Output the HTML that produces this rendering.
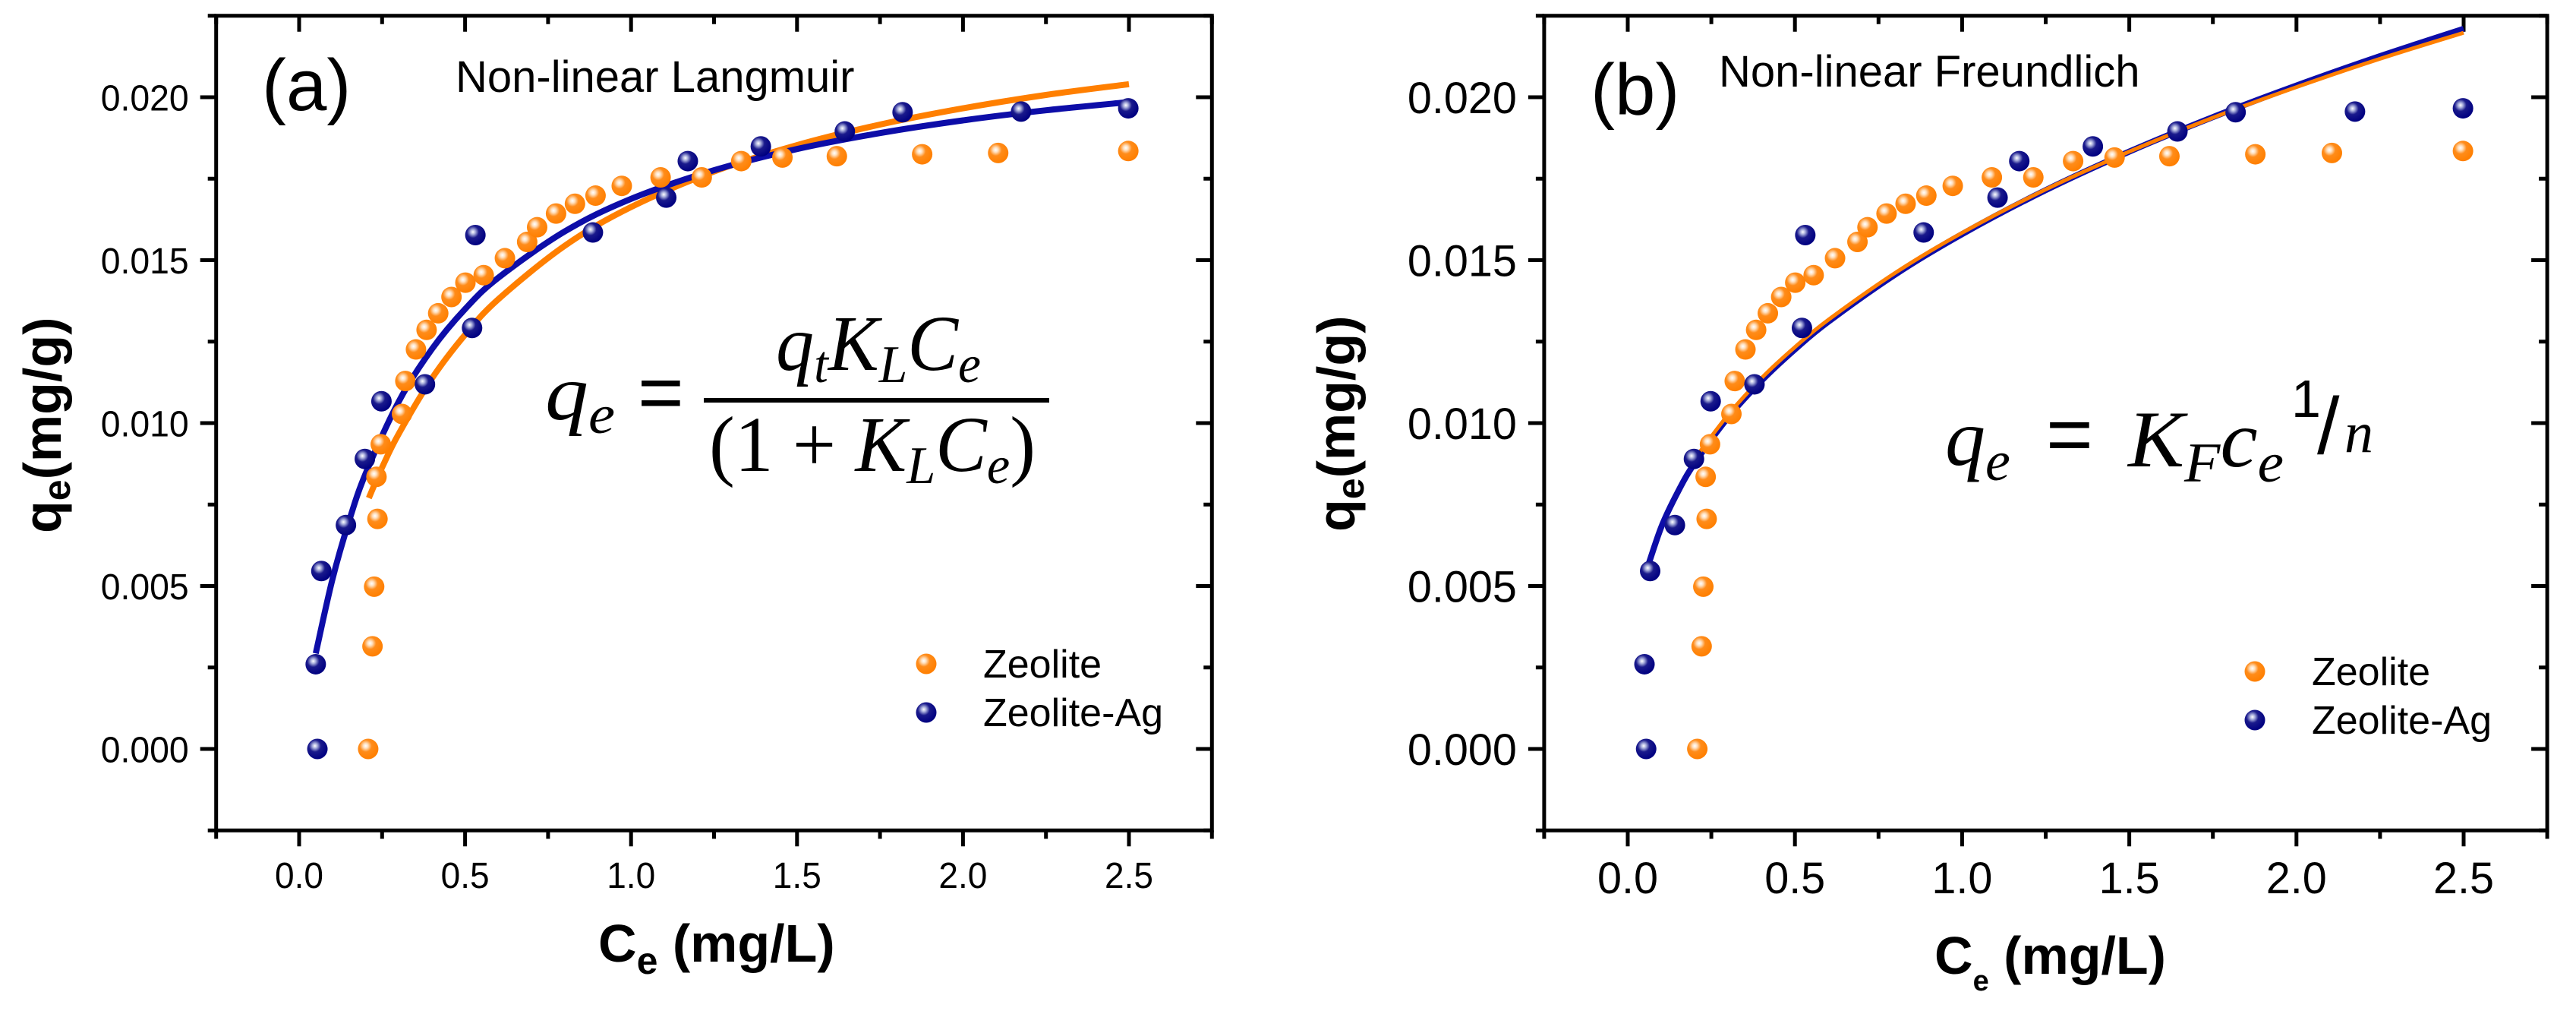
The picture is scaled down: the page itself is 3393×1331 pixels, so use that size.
<!DOCTYPE html>
<html><head><meta charset="utf-8"><title>Langmuir and Freundlich isotherm fits</title>
<style>
html,body{margin:0;padding:0;background:#fff;}
svg{display:block;}
text{font-family:"Liberation Sans",Arial,sans-serif;}
.m{font-family:"Liberation Serif","DejaVu Serif",serif;font-style:italic;}
</style></head>
<body>
<svg id="fig" xmlns="http://www.w3.org/2000/svg" width="3393" height="1331" viewBox="0 0 3393 1331">
<defs>
<radialGradient id="gO" cx="0.38" cy="0.35" r="0.65">
<stop offset="0" stop-color="#ffffff"/><stop offset="0.18" stop-color="#ffe0bf"/><stop offset="0.45" stop-color="#ff8c1a"/><stop offset="1" stop-color="#ff7f00"/>
</radialGradient>
<radialGradient id="gB" cx="0.38" cy="0.35" r="0.65">
<stop offset="0" stop-color="#ffffff"/><stop offset="0.18" stop-color="#aab0dd"/><stop offset="0.45" stop-color="#1a1a8c"/><stop offset="1" stop-color="#000080"/>
</radialGradient>
</defs>
<g id="panelA"></g>
<g id="panelB"></g>
</svg>
<script>
// ---- measured data (shared by both panels) ----
const zeoliteX = [0.208,0.221,0.226,0.236,0.233,0.246,0.31,0.32,0.352,0.384,0.419,0.459,0.501,0.556,0.62,0.687,0.717,0.774,0.831,0.893,0.972,1.089,1.213,1.332,1.456,1.62,1.877,2.106,2.498];
const zeoliteY = [0.0,0.00315,0.00498,0.00706,0.00835,0.00935,0.01028,0.01129,0.01226,0.01286,0.01337,0.01387,0.01431,0.01454,0.01506,0.01556,0.01601,0.01643,0.01673,0.01698,0.01728,0.01754,0.01754,0.01804,0.01815,0.01819,0.01825,0.01829,0.01835];
const agX = [0.055,0.05,0.067,0.141,0.198,0.248,0.379,0.521,0.531,0.885,1.106,1.171,1.391,1.644,1.818,2.175,2.498];
const agY = [0.0,0.0026,0.00546,0.00687,0.0089,0.01067,0.01119,0.01292,0.01577,0.01585,0.01692,0.01804,0.01849,0.01895,0.01954,0.01956,0.01966];
// ---- fitted curves ----
const langAgX = [0.05,0.1,0.15,0.2,0.3,0.4,0.5,0.6,0.8,1.0,1.25,1.5,1.75,2.0,2.25,2.5];
const langAgY = [0.00293,0.00519,0.00698,0.00844,0.01066,0.01227,0.0135,0.01446,0.01588,0.01688,0.01776,0.01841,0.0189,0.01929,0.0196,0.01985];
const langZX = [0.21,0.25,0.3,0.4,0.5,0.6,0.8,1.0,1.25,1.5,1.75,2.0,2.25,2.5];
const langZY = [0.0077,0.00864,0.00967,0.01137,0.01271,0.0138,0.01544,0.01663,0.01772,0.01853,0.01916,0.01966,0.02007,0.0204];
const freAgX = [0.05,0.1,0.15,0.2,0.3,0.4,0.5,0.6,0.8,1.0,1.25,1.5,1.75,2.0,2.25,2.5];
const freAgY = [0.00528,0.0068,0.00789,0.00877,0.01017,0.0113,0.01226,0.01311,0.01456,0.0158,0.01715,0.01833,0.01939,0.02036,0.02126,0.0221];
const freZX = [0.2,0.3,0.4,0.5,0.6,0.8,1.0,1.25,1.5,1.75,2.0,2.25,2.5];
const freZY = [0.0089,0.01025,0.01138,0.01233,0.01317,0.01461,0.01584,0.01717,0.01833,0.01937,0.02031,0.02118,0.02198];
// ---- ticks ----
const xTickVals = [0,0.5,1,1.5,2,2.5];
const xTickLabels = ["0.0","0.5","1.0","1.5","2.0","2.5"];
const yTickVals = [0,0.005,0.01,0.015,0.02];
const yTickLabels = ["0.000","0.005","0.010","0.015","0.020"];
const xMin=-0.25, xMax=2.75, yMin=-0.0025, yMax=0.0225;

const NS="http://www.w3.org/2000/svg";
function mk(tag, attrs, parent){const e=document.createElementNS(NS,tag);for(const k in attrs)e.setAttribute(k,attrs[k]);if(parent)parent.appendChild(e);return e;}
function smooth(pts){
  let d="M"+pts[0][0].toFixed(1)+","+pts[0][1].toFixed(1);
  for(let i=0;i<pts.length-1;i++){
    const p0=pts[i-1]||pts[i],p1=pts[i],p2=pts[i+1],p3=pts[i+2]||p2;
    const c1=[p1[0]+(p2[0]-p0[0])/6,p1[1]+(p2[1]-p0[1])/6];
    const c2=[p2[0]-(p3[0]-p1[0])/6,p2[1]-(p3[1]-p1[1])/6];
    d+=" C"+c1[0].toFixed(1)+","+c1[1].toFixed(1)+" "+c2[0].toFixed(1)+","+c2[1].toFixed(1)+" "+p2[0].toFixed(1)+","+p2[1].toFixed(1);
  }
  return d;
}
function labelWidth(s,dw,pw){let w=0;for(const ch of s)w+=(ch==='.')?pw:dw;return w;}

function panel(g, cfg){
  const X=v=>cfg.x0+v*cfg.xu;
  const Y=v=>986-v*42900;
  const L=X(xMin),R=X(xMax),T=Y(yMax),B=Y(yMin);
  const fr=mk("rect",{x:L,y:T,width:R-L,height:B-T,fill:"none",stroke:"#000","stroke-width":5},g);
  
  
  for(let v=xMin; v<=xMax+1e-9; v+=0.25){
    const major=Math.abs(v*2-Math.round(v*2))<1e-9;
    const len=major?21:11, x=X(v);
    const t1=mk("line",{x1:x,y1:B,x2:x,y2:B+len,stroke:"#000","stroke-width":5},g);
    
    
    const t2=mk("line",{x1:x,y1:T,x2:x,y2:T+len,stroke:"#000","stroke-width":5},g);
    
    
  }
  for(let v=yMin; v<=yMax+1e-9; v+=0.0025){
    const major=Math.abs(v/0.005-Math.round(v/0.005))<1e-6;
    const len=major?21:11, y=Y(v);
    const t1=mk("line",{x1:L,y1:y,x2:L-len,y2:y,stroke:"#000","stroke-width":5},g);
    
    
    const t2=mk("line",{x1:R,y1:y,x2:R-len,y2:y,stroke:"#000","stroke-width":5},g);
    
    
  }
  xTickVals.forEach((v,i)=>{
    const w=labelWidth(xTickLabels[i],cfg.dw,cfg.pw);
    const t=mk("text",{x:X(v)-w/2,y:cfg.xlabY,"font-size":cfg.tickFs,textLength:w,lengthAdjust:"spacingAndGlyphs"},g);
    t.textContent=xTickLabels[i];
    
    
  });
  yTickVals.forEach((v,i)=>{
    const w=labelWidth(yTickLabels[i],cfg.dw,cfg.pw);
    const t=mk("text",{x:L-36-w,y:Y(v)+cfg.tickFs*0.36,"font-size":cfg.tickFs,textLength:w,lengthAdjust:"spacingAndGlyphs"},g);
    t.textContent=yTickLabels[i];
    
    
  });
  cfg.curves.forEach(c=>{
    const pts=c.xs.map((x,i)=>[X(x),Y(c.ys[i])]);
    const p=mk("path",{d:smooth(pts),fill:"none",stroke:c.color,"stroke-width":c.w},g);
    
    
  });
  zeoliteX.forEach((x,i)=>{
    const c=mk("circle",{cx:X(x),cy:Y(zeoliteY[i]),r:13.5,fill:"url(#gO)"},g);
    
    
  });
  agX.forEach((x,i)=>{
    const c=mk("circle",{cx:X(x),cy:Y(agY[i]),r:13.5,fill:"url(#gB)"},g);
    
    
  });
  const lg=mk("g",{},g);
  
  
  const l1=mk("circle",{cx:cfg.legX,cy:cfg.legY,r:13.5,fill:"url(#gO)"},lg);
  
  
  const l2=mk("circle",{cx:cfg.legX,cy:cfg.legY+64,r:13.5,fill:"url(#gB)"},lg);
  
  
  const lt1=mk("text",{x:cfg.legX+75,y:cfg.legY+18,"font-size":52},lg);
  lt1.textContent="Zeolite";
  
  
  const lt2=mk("text",{x:cfg.legX+75,y:cfg.legY+82,"font-size":52},lg);
  lt2.textContent="Zeolite-Ag";
  
  
}

const A=document.getElementById('panelA'), Bp=document.getElementById('panelB');
panel(A,{x0:394,xu:437.2,tickFs:48,dw:26,pw:12,xlabY:1169,legX:1220,legY:874,
  curves:[{xs:langZX,ys:langZY,color:"#ff7f00",w:8,name:"zeolite-langmuir-fit"},
          {xs:langAgX,ys:langAgY,color:"#0d0da8",w:8,name:"zeolite-ag-langmuir-fit"}]});
panel(Bp,{x0:2144,xu:440.4,tickFs:58,dw:32,pw:16,xlabY:1176,legX:2970,legY:884,
  curves:[{xs:freAgX,ys:freAgY,color:"#0d0da8",w:8,name:"zeolite-ag-freundlich-fit"},
          {xs:freZX,ys:freZY,color:"#ff7f00",w:5,name:"zeolite-freundlich-fit"}]});
</script>
<svg style="position:absolute;left:0;top:0" width="3393" height="1331" viewBox="0 0 3393 1331" xmlns="http://www.w3.org/2000/svg">
<text x="345" y="145" font-size="96">(a)</text>
<text x="600" y="121" font-size="58">Non-linear Langmuir</text>
<text transform="translate(80,702) rotate(-90)" font-size="70" font-weight="bold">q<tspan font-size="50" dy="12">e</tspan><tspan dy="-12">(mg/g)</tspan></text>
<text x="788" y="1266" font-size="70" font-weight="bold">C<tspan font-size="50" dy="16">e</tspan><tspan dy="-16"> (mg/L)</tspan></text>
<g>
<text class="m" x="718" y="552" font-size="104" textLength="92" lengthAdjust="spacingAndGlyphs">q<tspan font-size="72" dy="18">e</tspan></text>
<text x="840" y="552" font-size="104" font-family="Liberation Serif">=</text>
<line x1="927" y1="527" x2="1382" y2="527" stroke="#000" stroke-width="6"/>
<text class="m" x="1022" y="487" font-size="104" textLength="270" lengthAdjust="spacingAndGlyphs">q<tspan font-size="70" dy="16">t</tspan><tspan dy="-16">K</tspan><tspan font-size="70" dy="16">L</tspan><tspan dy="-16">C</tspan><tspan font-size="70" dy="16">e</tspan></text>
<text class="m" x="934" y="620" font-size="104" textLength="430" lengthAdjust="spacingAndGlyphs"><tspan font-style="normal">(1 + </tspan>K<tspan font-size="70" dy="16">L</tspan><tspan dy="-16">C</tspan><tspan font-size="70" dy="16">e</tspan><tspan dy="-16" font-style="normal">)</tspan></text>
</g>
<text x="2095" y="151" font-size="96">(b)</text>
<text x="2264" y="114" font-size="58">Non-linear Freundlich</text>
<text transform="translate(1784,700) rotate(-90)" font-size="70" font-weight="bold">q<tspan font-size="50" dy="12">e</tspan><tspan dy="-12">(mg/g)</tspan></text>
<text x="2548" y="1282" font-size="70" font-weight="bold">C<tspan font-size="38" dy="22">e</tspan><tspan dy="-22"> (mg/L)</tspan></text>
<g>
<text class="m" x="2562" y="612" font-size="106">q<tspan font-size="74" dy="20">e</tspan></text>
<text x="2695" y="608" font-size="106" font-family="Liberation Serif">=</text>
<text class="m" x="2803" y="614" font-size="106" textLength="205" lengthAdjust="spacingAndGlyphs">K<tspan font-size="74" dy="20">F</tspan><tspan dy="-20">c</tspan><tspan font-size="74" dy="20">e</tspan></text>
<text x="3018" y="549" font-size="70" font-family="Liberation Serif">1</text>
<text x="3052" y="597" font-size="106" font-family="Liberation Serif">/</text>
<text class="m" x="3088" y="595" font-size="76">n</text>
</g>
</svg>
</body></html>
